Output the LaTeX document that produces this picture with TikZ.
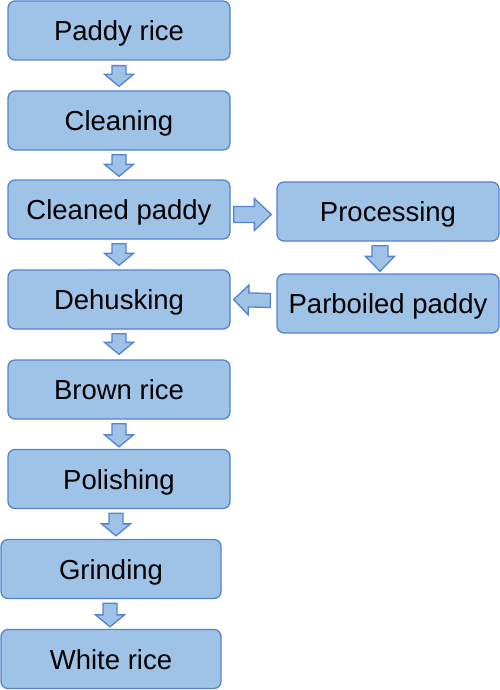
\documentclass[tikz,border=0pt]{standalone}
\usepackage{fontspec}
\setmainfont{Liberation Sans}
\usetikzlibrary{calc}
\definecolor{fillc}{RGB}{159,195,231}
\definecolor{bordc}{RGB}{84,132,208}
\tikzset{
  box/.style={draw=bordc, fill=fillc, rounded corners=7pt, line width=1.3pt,
    minimum width=222pt, minimum height=59pt, inner sep=0pt,
    text height=20pt, text depth=0pt, font=\fontsize{27.5}{30}\selectfont},
  barrow/.style={draw=bordc, fill=fillc, line width=1.3pt, line join=miter}
}
\newcommand\barr[5]{%
  \coordinate (bA) at (#1);
  \coordinate (bB) at (#2);
  \coordinate (bH) at ($(bB)!#5!(bA)$);
  \draw[barrow] ($(bA)!#3!90:(bB)$) -- ($(bH)!#3!90:(bB)$) -- ($(bH)!#4!90:(bB)$)
    -- (bB) -- ($(bH)!#4!-90:(bB)$) -- ($(bH)!#3!-90:(bB)$) -- ($(bA)!#3!-90:(bB)$) -- cycle;
}
\begin{document}
\begin{tikzpicture}[x=1pt,y=-1pt]
\useasboundingbox (0,0) rectangle (500,690);
\node[box] (paddy)   at (119,30.5)  {Paddy rice};
\node[box] (clean)   at (119,120.5) {Cleaning};
\node[box] (cleaned) at (119,209.5) {Cleaned paddy};
\node[box] (dehusk)  at (119,299.5) {Dehusking};
\node[box] (brown)   at (119,389.5) {Brown rice};
\node[box] (polish)  at (119,479)   {Polishing};
\node[box, minimum width=220pt] (grind) at (111,569) {Grinding};
\node[box, minimum width=220pt] (white) at (111,659) {White rice};
\node[box] (proc)    at (388,211.5) {Processing};
\node[box] (parb)    at (388,303.5) {Parboiled paddy};

\barr{$(paddy.south)+(0,5)$}{$(clean.north)+(0,-4)$}{7pt}{14.5pt}{12pt}
\barr{$(clean.south)+(0,4)$}{$(cleaned.north)+(0,-3)$}{7pt}{14.5pt}{12pt}
\barr{$(cleaned.south)+(0,4)$}{$(dehusk.north)+(0,-4)$}{7pt}{14.5pt}{12pt}
\barr{$(dehusk.south)+(0,4)$}{$(brown.north)+(0,-5)$}{7pt}{14.5pt}{12pt}
\barr{$(brown.south)+(0,4)$}{$(polish.north)+(0,-2)$}{7pt}{14.5pt}{12pt}
\barr{$(polish.south)+(-3,4)$}{$(grind.north)+(5,-3)$}{7pt}{14.5pt}{12pt}
\barr{$(grind.south)+(-1,4)$}{$(white.north)+(-1,-2)$}{7pt}{14.5pt}{12pt}
\barr{$(cleaned.east)+(3,5)$}{$(proc.west)+(-5,3)$}{8pt}{16pt}{17pt}
\barr{$(proc.south)+(-8,4)$}{$(parb.north)+(-8,-2)$}{8pt}{14.5pt}{15pt}
\barr{$(parb.west)+(-6,-3)$}{$(dehusk.east)+(3,0)$}{7pt}{15pt}{15pt}
\end{tikzpicture}
\end{document}
